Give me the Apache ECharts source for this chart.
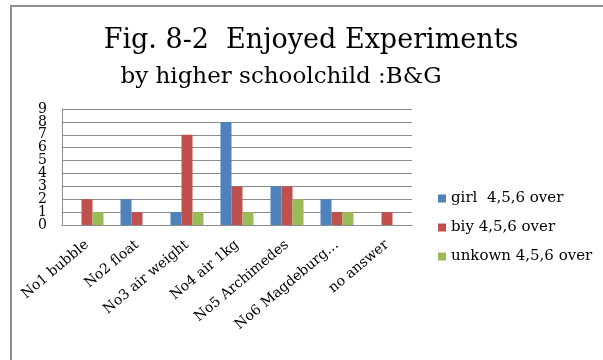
<!DOCTYPE html>
<html>
<head>
<meta charset="utf-8">
<script src="https://cdn.jsdelivr.net/npm/echarts@6/dist/echarts.min.js"></script>
<style>
  html, body { margin: 0; padding: 0; background: #fff; }
  #chart { width: 603px; height: 360px; }
</style>
</head>
<body>
<div id="chart"></div>
<script>
// Experiments and the counts of pupils who enjoyed each one
const categories = ['No1 bubble', 'No2 float', 'No3 air weight', 'No4 air 1kg', 'No5 Archimedes', 'No6 Magdeburg…', 'no answer'];
const girlValues = [0, 2, 1, 8, 3, 2, 0];
const boyValues = [2, 1, 7, 3, 3, 1, 1];
const unknownValues = [1, 0, 1, 1, 2, 1, 0];
const seriesNames = ['girl  4,5,6 over', 'biy 4,5,6 over', 'unkown 4,5,6 over'];
const titleLines = ['Fig. 8-2  Enjoyed Experiments', 'by higher schoolchild :B&G'];
const yTicks = [0, 1, 2, 3, 4, 5, 6, 7, 8, 9];

const serif = 'DejaVu Serif';
const colors = ['#4F81BD', '#C0504D', '#9BBB59'];
const yMin = yTicks[0];
const yMax = yTicks[yTicks.length - 1];

const chart = echarts.init(document.getElementById('chart'));

function barSeries(name, data, color) {
  return {
    name: name,
    type: 'bar',
    data: data,
    barWidth: 11,
    barGap: '0%',
    itemStyle: { color: color },
    emphasis: { disabled: true }
  };
}

function titleText(text, x, y, size) {
  return {
    type: 'text',
    x: x,
    y: y,
    style: {
      text: text,
      fontFamily: serif,
      fontSize: size,
      fill: '#000',
      align: 'center',
      verticalAlign: 'middle'
    }
  };
}

const plotBox = { left: 62, right: 191, top: 109, bottom: 135, containLabel: false };
const tickLabelStyle = { margin: 15, fontFamily: serif, fontSize: 14, color: '#000' };

chart.setOption({
  animation: false,
  backgroundColor: '#ffffff',
  legend: {
    orient: 'vertical',
    left: 433,
    top: 186,
    itemWidth: 8,
    itemHeight: 8,
    itemGap: 14,
    icon: 'rect',
    textStyle: { fontFamily: serif, fontSize: 15, color: '#000' },
    data: seriesNames
  },
  // the second grid shares the plot box and only carries the end tick labels,
  // so the tightly packed labels are all kept
  grid: [plotBox, Object.assign({}, plotBox)],
  xAxis: [{
    type: 'category',
    data: categories,
    axisLine: { show: true, lineStyle: { color: '#8c8c8c', width: 1 } },
    axisTick: { show: false },
    axisLabel: {
      rotate: 40,
      interval: 0,
      margin: 18,
      fontFamily: serif,
      fontSize: 14,
      color: '#000'
    }
  }, {
    type: 'category',
    gridIndex: 1,
    data: categories,
    show: false
  }],
  yAxis: [{
    type: 'value',
    min: yMin,
    max: yMax,
    interval: 1,
    axisLine: { show: true, lineStyle: { color: '#8c8c8c', width: 1 } },
    axisTick: { show: false },
    axisLabel: Object.assign({ showMinLabel: false, showMaxLabel: false }, tickLabelStyle),
    splitLine: { show: true, lineStyle: { color: '#8c8c8c', width: 1 } }
  }, {
    type: 'value',
    gridIndex: 1,
    min: yMin,
    max: yMax,
    interval: 1,
    axisLine: { show: false },
    axisTick: { show: false },
    splitLine: { show: false },
    axisLabel: Object.assign({
      showMinLabel: true,
      showMaxLabel: true,
      formatter: function (v) { return (v === yMin || v === yMax) ? String(v) : ''; }
    }, tickLabelStyle)
  }],
  graphic: [
    { type: 'line', shape: { x1: 10, y1: 6, x2: 603, y2: 6 }, style: { stroke: '#8f8f8f', lineWidth: 2 } },
    { type: 'line', shape: { x1: 11, y1: 5, x2: 11, y2: 360 }, style: { stroke: '#8f8f8f', lineWidth: 2 } },
    titleText(titleLines[0], 311, 41, 27),
    titleText(titleLines[1], 281, 77, 23)
  ],
  series: [
    barSeries(seriesNames[0], girlValues, colors[0]),
    barSeries(seriesNames[1], boyValues, colors[1]),
    barSeries(seriesNames[2], unknownValues, colors[2])
  ]
});
</script>
</body>
</html>
